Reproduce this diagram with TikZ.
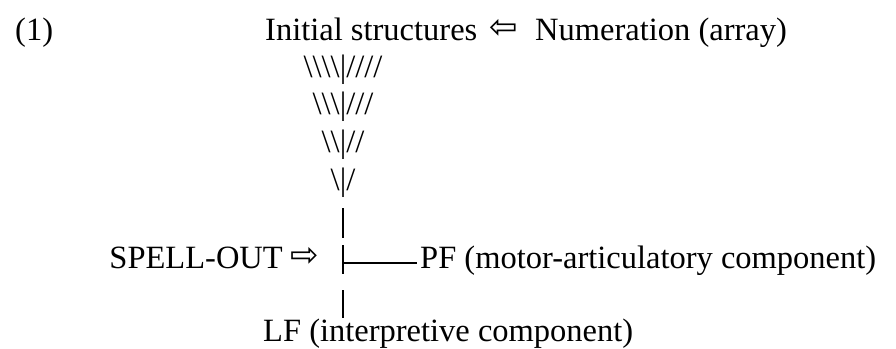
\documentclass[tikz,border=0pt]{standalone}
\usepackage{fontspec}
\setmainfont{Liberation Serif}
\newfontfamily\arrowfont{DejaVu Sans}
\begin{document}
\begin{tikzpicture}[x=1pt,y=-1pt,
  txt/.style={inner sep=0pt, font=\fontsize{32.5}{39}\selectfont},
  arr/.style={inner sep=0pt, font=\arrowfont\fontsize{34}{40}\selectfont},
  bar/.style={line width=1.5pt}]
\useasboundingbox (0,0) rectangle (896,348);
\node[txt, anchor=base west] (num) at (15,40) {(1)};
\node[txt, anchor=base west] (init) at (265,40) {Initial structures};
\node[arr] (larr) at (504,29) {⇦};
\node[txt, anchor=base west] (numer) at (535,40) {Numeration (array)};
\node[txt, anchor=base] (r1) at (343,77) {\textbackslash\textbackslash\textbackslash\textbackslash|////};
\node[txt, anchor=base] (r2) at (343,114) {\textbackslash\textbackslash\textbackslash|///};
\node[txt, anchor=base] (r3) at (343,152) {\textbackslash\textbackslash|//};
\node[txt, anchor=base] (r4) at (343,190) {\textbackslash|/};
\node[txt, anchor=base east] (spell) at (283,268) {SPELL-OUT};
\node[arr] (rarr) at (305,257) {⇨};
\node[txt, anchor=base west] (pf) at (420,268) {PF (motor-articulatory component)};
\node[txt, anchor=base west] (lf) at (263,341) {LF (interpretive component)};
\coordinate (a1) at (343,208);
\coordinate (a2) at (343,238);
\coordinate (b1) at (343,245);
\coordinate (b2) at (343,274);
\coordinate (j) at (343,263);
\coordinate (c1) at (343,290);
\coordinate (c2) at (343,318);
\draw[bar] (a1) -- (a2);
\draw[bar] (b1) -- (b2);
\draw[bar] (c1) -- (c2);
\draw[bar] (j) -- ([xshift=-3pt]j -| pf.west);
\end{tikzpicture}
\end{document}
